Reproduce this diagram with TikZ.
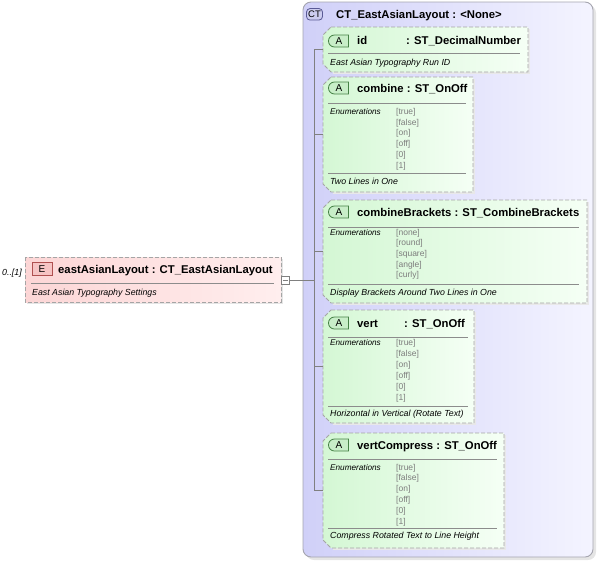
\documentclass[tikz,border=0pt]{standalone}
\usepackage{fontspec}
\setmainfont{Liberation Sans}
\usetikzlibrary{shapes.misc,calc}
\definecolor{ctDark}{RGB}{208,208,248}
\definecolor{ctLight}{RGB}{244,244,255}
\definecolor{ctBorder}{RGB}{165,165,175}
\definecolor{grnDark}{RGB}{212,247,212}
\definecolor{grnLight}{RGB}{245,255,245}
\definecolor{pinkDark}{RGB}{252,214,214}
\definecolor{pinkLight}{RGB}{255,238,238}
\definecolor{dashGray}{RGB}{165,165,165}
\definecolor{sepGray}{RGB}{140,140,140}
\definecolor{connGray}{RGB}{128,128,128}
\definecolor{enumGray}{RGB}{125,125,125}
\definecolor{aFill}{RGB}{200,238,200}
\definecolor{aBorder}{RGB}{70,130,70}
\definecolor{eFill}{RGB}{246,196,196}
\definecolor{eBorder}{RGB}{175,80,80}
\definecolor{ctbFill}{RGB}{205,205,240}
\definecolor{ctbBorder}{RGB}{90,90,150}
\newcommand\attrbox[5]{%
  \fill[black!9] (#2+10,#3+2) -- (#4+2,#3+2) -- (#4+2,#5+2) -- (#2+10,#5+2) -- cycle;
  \path[attrframe] (#2+8,#3) -- (#4,#3) -- (#4,#5) -- (#2+8,#5) -- (#2,#5-8) -- (#2,#3+8) -- cycle;
  \coordinate (#1) at (#2,{(#3+#5)/2});
}
\tikzset{
  attrframe/.style={draw=dashGray, dash pattern=on 4pt off 2pt, line width=0.9pt, left color=grnDark, right color=grnLight},
  titletext/.style={anchor=base west, inner sep=0, font=\bfseries\fontsize{11.3}{13}\selectfont},
  desctext/.style={anchor=base west, inner sep=0, font=\itshape\fontsize{8.8}{10}\selectfont},
  enumlabel/.style={anchor=base west, inner sep=0, font=\itshape\fontsize{8.2}{10}\selectfont},
  enumval/.style={anchor=base west, inner sep=0, text=enumGray, font=\fontsize{8.5}{10}\selectfont},
  sepline/.style={draw=sepGray, line width=0.7pt},
  abadge/.style={rounded rectangle, rounded rectangle right arc=none, draw=aBorder, fill=aFill, line width=0.8pt, minimum width=20pt, minimum height=12pt, inner sep=0, font=\fontsize{10}{10}\selectfont},
  conn/.style={draw=connGray, line width=0.7pt},
}
\begin{document}
\begin{tikzpicture}[x=1pt,y=-1pt]
\useasboundingbox (0,0) rectangle (599,562);
% complex type container
\fill[black!10, rounded corners=8pt] (306,5) rectangle (596,560);
\path[draw=ctBorder, line width=0.9pt, rounded corners=8pt, left color=ctDark, right color=ctLight] (303,2) rectangle (593,557);
\node[rectangle, rounded corners=3.5pt, draw=ctbBorder, fill=ctbFill, line width=0.8pt, minimum width=16pt, minimum height=11.5pt, inner sep=0, font=\fontsize{9.5}{10}\selectfont] (ctbadge) at (314.5,14.3) {CT};
\node[titletext] (cttitle) at (336,18) {CT\_EastAsianLayout : <None>};

% element
\fill[black!10] (27,259) rectangle (283,304);
\path[draw=dashGray, dash pattern=on 4pt off 2pt, line width=0.9pt, left color=pinkDark, right color=pinkLight] (25,257) rectangle (281,302);
\node[rectangle, draw=eBorder, fill=eFill, line width=0.8pt, minimum width=20pt, minimum height=13pt, inner sep=0, font=\fontsize{10}{10}\selectfont] (ebadge) at (42,269) {E};
\node[titletext] (etitle) at (58,273.5) {eastAsianLayout : CT\_EastAsianLayout};
\draw[sepline] (31,283) -- (274,283);
\node[desctext] (edesc) at (32,295) {East Asian Typography Settings};
\node[anchor=base west, inner sep=0, font=\itshape\fontsize{8.8}{10}\selectfont] (occ) at (2,275.5) {0..[1]};
\node[rectangle, draw=connGray, fill=white, line width=0.7pt, minimum size=8pt, inner sep=0] (col) at (285,280.5) {};
\draw[connGray, line width=0.7pt] ($(col.center)+(-2.5,0)$) -- ($(col.center)+(2.5,0)$);

% attributes
\attrbox{idbox}{323}{27}{528}{72}
\node[abadge] (ida) at (339,41) {A};
\node[titletext] (idt) at (357,44.5) {id};
\node[titletext] (idty) at (406,44.5) {: ST\_DecimalNumber};
\draw[sepline] (328,53) -- (520,53);
\node[desctext] (idd) at (330,65) {East Asian Typography Run ID};

\attrbox{cbbox}{323}{77}{473}{192}
\node[abadge] (cba) at (339,88) {A};
\node[titletext] (cbt) at (357,92) {combine : ST\_OnOff};
\draw[sepline] (328,103) -- (466,103);
\node[enumlabel] (cbe) at (330,114.5) {Enumerations};
\foreach \v [count=\i from 0] in {[true],[false],[on],[off],[0],[1]}
  \node[enumval] at (396,114.5+10.7*\i) {\v};
\draw[sepline] (328,173) -- (466,173);
\node[desctext] (cbd) at (330,184) {Two Lines in One};

\attrbox{brbox}{323}{200}{587}{303}
\node[abadge] (bra) at (339,212) {A};
\node[titletext] (brt) at (357,216) {combineBrackets : ST\_CombineBrackets};
\draw[sepline] (328,227) -- (579,227);
\node[enumlabel] (bre) at (330,235) {Enumerations};
\foreach \v [count=\i from 0] in {[none],[round],[square],[angle],[curly]}
  \node[enumval] at (396,235+10.7*\i) {\v};
\draw[sepline] (328,284) -- (579,284);
\node[desctext] (brd) at (330,295) {Display Brackets Around Two Lines in One};

\attrbox{vtbox}{323}{310}{474}{423}
\node[abadge] (vta) at (339,323) {A};
\node[titletext] (vtt) at (357,327) {vert};
\node[titletext] (vtty) at (404,327) {: ST\_OnOff};
\draw[sepline] (328,337) -- (468,337);
\node[enumlabel] (vte) at (330,345.5) {Enumerations};
\foreach \v [count=\i from 0] in {[true],[false],[on],[off],[0],[1]}
  \node[enumval] at (396,345.5+10.9*\i) {\v};
\draw[sepline] (328,406) -- (468,406);
\node[desctext] (vtd) at (330,416) {Horizontal in Vertical (Rotate Text)};

\attrbox{vcbox}{323}{433}{504}{548}
\node[abadge] (vca) at (339,445) {A};
\node[titletext] (vct) at (357,449) {vertCompress : ST\_OnOff};
\draw[sepline] (328,459) -- (497,459);
\node[enumlabel] (vce) at (330,470) {Enumerations};
\foreach \v [count=\i from 0] in {[true],[false],[on],[off],[0],[1]}
  \node[enumval] at (396,470+10.8*\i) {\v};
\draw[sepline] (328,528) -- (497,528);
\node[desctext] (vcd) at (330,538) {Compress Rotated Text to Line Height};

% connectors
\coordinate (trunk) at (314,280.5);
\draw[conn] (col.east) -- (trunk);
\draw[conn] (trunk |- idbox) -- (trunk |- vcbox);
\draw[conn] (trunk |- idbox) -- (idbox);
\draw[conn] (trunk |- cbbox) -- (cbbox);
\draw[conn] (trunk |- brbox) -- (brbox);
\draw[conn] (trunk |- vtbox) -- (vtbox);
\draw[conn] (trunk |- vcbox) -- (vcbox);
\end{tikzpicture}
\end{document}
